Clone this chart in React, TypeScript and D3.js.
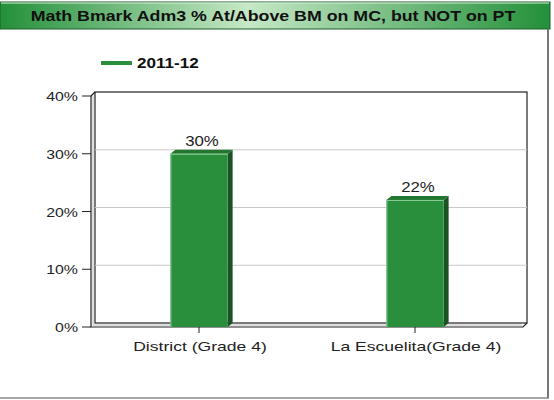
import React, { useEffect, useRef } from 'react';
import * as d3 from 'd3';

const title = 'Math Bmark Adm3 % At/Above BM on MC, but NOT on PT';
const seriesName = '2011-12';
const categories = ['District (Grade 4)', 'La Escuelita(Grade 4)'];
const values = [30, 22];
const yTicks = [0, 10, 20, 30, 40];

const App = () => {
  const ref = useRef<SVGSVGElement | null>(null);

  useEffect(() => {
    const svg = d3.select(ref.current);
    svg.selectAll('*').remove();

    const font = '"Liberation Sans", Arial, sans-serif';
    const left = 91, right = 523, top = 96, bottom = 327;
    const dx = 4, dy = -4; // depth offset of back wall

    // the original renderer draws text wider than Arial, stretch it a bit
    const stretch = (sel: any, k: number) => sel.each(function (this: SVGTextElement) {
      const w = this.getComputedTextLength();
      d3.select(this).attr('textLength', w * k).attr('lengthAdjust', 'spacingAndGlyphs');
    });

    const x = d3.scaleBand().domain(categories).range([left, right]).paddingInner(0.735).paddingOuter(0.3675);
    const y = d3.scaleLinear().domain([0, 40]).range([bottom, top]);

    const defs = svg.append('defs');
    const grad = defs.append('linearGradient').attr('id', 'tg').attr('x1', '0%').attr('x2', '100%');
    grad.append('stop').attr('offset', '0%').attr('stop-color', '#23903a');
    grad.append('stop').attr('offset', '45%').attr('stop-color', '#c6e8c6');
    grad.append('stop').attr('offset', '100%').attr('stop-color', '#23903a');

    // title bar
    svg.append('rect').attr('x', 0).attr('y', 2).attr('width', 550).attr('height', 27)
      .attr('fill', 'url(#tg)').attr('stroke', '#1d5e28').attr('stroke-width', 1);
    svg.append('line').attr('x1', 1).attr('x2', 549).attr('y1', 3).attr('y2', 3).attr('stroke', '#d8f0d8');
    svg.append('text').attr('x', 273).attr('y', 21).attr('text-anchor', 'middle')
      .attr('font-family', font).attr('font-weight', 'bold').attr('font-size', 14).attr('fill', '#111')
      .text(title).call(stretch, 1.27);

    // outer border
    svg.append('line').attr('x1', 548).attr('x2', 548).attr('y1', 29).attr('y2', 398).attr('stroke', '#777').attr('stroke-width', 2);
    svg.append('line').attr('x1', 0).attr('x2', 549).attr('y1', 398).attr('y2', 398).attr('stroke', '#888').attr('stroke-width', 1.5);

    // legend
    svg.append('line').attr('x1', 101).attr('x2', 132).attr('y1', 63).attr('y2', 63).attr('stroke', '#2a8f3d').attr('stroke-width', 4);
    svg.append('text').attr('x', 137).attr('y', 68).attr('font-family', font).attr('font-weight', 'bold')
      .attr('font-size', 14).attr('fill', '#111').text(seriesName).call(stretch, 1.22);

    // back wall + grid
    svg.append('rect').attr('x', left + dx).attr('y', top + dy).attr('width', right - left).attr('height', bottom - top)
      .attr('fill', '#fff').attr('stroke', '#222').attr('stroke-width', 1.2);
    svg.selectAll('.grid').data(yTicks.filter(t => t > 0 && t < 40)).enter().append('line')
      .attr('x1', left + dx).attr('x2', right + dx).attr('y1', d => y(d) + dy).attr('y2', d => y(d) + dy)
      .attr('stroke', '#c8c8c8').attr('stroke-width', 1);

    // front axes with depth edges
    const axisColor = '#222';
    svg.append('path').attr('fill', 'none').attr('stroke', axisColor).attr('stroke-width', 1.2)
      .attr('d', `M${left},${top}L${left},${bottom}L${right},${bottom}L${right + dx},${bottom + dy}`);
    svg.append('path').attr('fill', 'none').attr('stroke', axisColor).attr('stroke-width', 1.2)
      .attr('d', `M${left},${top}L${left + dx},${top + dy}`);
    svg.append('path').attr('fill', 'none').attr('stroke', '#bbb').attr('stroke-width', 1)
      .attr('d', `M${left + 2},${top}L${left + 2},${bottom - 2}L${right - 1},${bottom - 2}`);

    // y ticks
    svg.selectAll('.ytick').data(yTicks).enter().append('line')
      .attr('x1', left - 9).attr('x2', left).attr('y1', d => y(d)).attr('y2', d => y(d)).attr('stroke', axisColor);
    svg.selectAll('.ylab').data(yTicks).enter().append('text')
      .attr('x', 78).attr('y', d => y(d) + 5).attr('text-anchor', 'end')
      .attr('font-family', font).attr('font-size', 13).attr('fill', '#222').text(d => `${d}%`)
      .call(stretch, 1.22);

    // x ticks and labels
    svg.selectAll('.xtick').data(categories).enter().append('line')
      .attr('x1', d => x(d)! + x.bandwidth() / 2).attr('x2', d => x(d)! + x.bandwidth() / 2)
      .attr('y1', bottom).attr('y2', bottom + 6).attr('stroke', axisColor);
    svg.selectAll('.xlab').data(categories).enter().append('text')
      .attr('x', d => x(d)! + x.bandwidth() / 2 + 1).attr('y', bottom + 24).attr('text-anchor', 'middle')
      .attr('font-family', font).attr('font-size', 13).attr('fill', '#222').text(d => d)
      .call(stretch, 1.35);

    // bars
    const bdx = 5, bdy = -4;
    const bars = svg.selectAll('.bar').data(values).enter().append('g');
    bars.append('path').attr('fill', '#1b5224')
      .attr('d', (d, i) => {
        const x1 = x(categories[i])! + x.bandwidth();
        return `M${x1},${y(d)}L${x1 + bdx},${y(d) + bdy}L${x1 + bdx},${bottom + bdy}L${x1},${bottom}Z`;
      });
    bars.append('path').attr('fill', '#23762f')
      .attr('d', (d, i) => {
        const x0 = x(categories[i])!;
        const x1 = x0 + x.bandwidth();
        return `M${x0},${y(d)}L${x0 + bdx},${y(d) + bdy}L${x1 + bdx},${y(d) + bdy}L${x1},${y(d)}Z`;
      });
    bars.append('rect').attr('x', (d, i) => x(categories[i])!).attr('y', d => y(d))
      .attr('width', x.bandwidth()).attr('height', d => bottom - y(d)).attr('fill', '#2a8f3d');
    bars.append('path').attr('fill', 'none').attr('stroke', '#8fcf98').attr('stroke-width', 1)
      .attr('d', (d, i) => {
        const x0 = x(categories[i])! + 0.5;
        const x1 = x(categories[i])! + x.bandwidth();
        return `M${x0},${bottom}L${x0},${y(d) + 0.5}L${x1},${y(d) + 0.5}`;
      });
    bars.append('text').attr('x', (d, i) => x(categories[i])! + x.bandwidth() / 2 + 3).attr('y', d => y(d) - 8)
      .attr('text-anchor', 'middle').attr('font-family', font).attr('font-size', 14).attr('fill', '#222')
      .text(d => `${d}%`).call(stretch, 1.2);
  }, []);

  return (
    <svg ref={ref} width={554} height={400} style={{ position: 'absolute', left: 0, top: 0, background: '#fff' }}></svg>
  );
};

export default App;
